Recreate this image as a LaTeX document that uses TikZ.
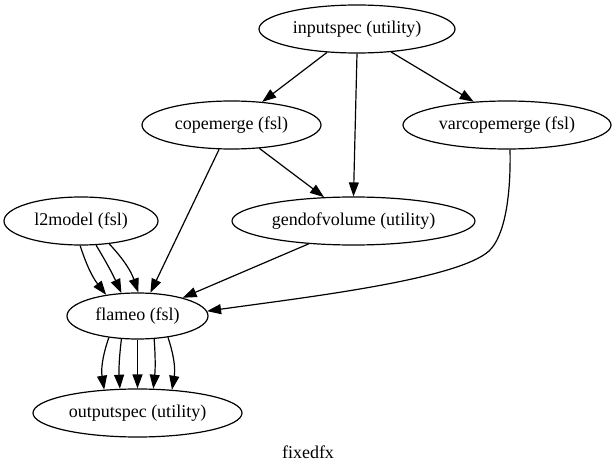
\documentclass[tikz,border=0pt]{standalone}
\usepackage{fontspec}
\setmainfont{Liberation Serif}
\usetikzlibrary{shapes.geometric,arrows.meta}
\begin{document}
\begin{tikzpicture}[x=1pt,y=-1pt,
  every node/.style={font=\fontsize{18}{21.6}\selectfont},
  nd/.style={draw, ellipse, inner sep=0pt, line width=1.2pt},
  conn/.style={draw, line width=1.2pt, -{Triangle[length=14pt,width=10pt]}}]
\useasboundingbox (0,0) rectangle (616,473);
\fill[white] (0,0) rectangle (616,473);
\node[nd, minimum width=196pt, minimum height=48pt] (inputspec) at (357,29) {inputspec (utility)};
\node[nd, minimum width=179pt, minimum height=48pt] (cope) at (231.5,125) {copemerge (fsl)};
\node[nd, minimum width=208pt, minimum height=48pt] (varcope) at (507,125) {varcopemerge (fsl)};
\node[nd, minimum width=154pt, minimum height=48pt] (l2) at (81,221) {l2model (fsl)};
\node[nd, minimum width=243pt, minimum height=48pt] (gendo) at (353.5,221) {gendofvolume (utility)};
\node[nd, minimum width=141pt, minimum height=46pt] (flameo) at (137.5,316) {flameo (fsl)};
\node[nd, minimum width=209pt, minimum height=48pt] (out) at (137.5,413) {outputspec (utility)};
\node (title) at (308,452) {fixedfx};
\coordinate (vbend) at (489,251);

\draw[conn] (inputspec.218.7) -- (cope.37.9);
\draw[conn] (inputspec.-90) -- (gendo.90);
\draw[conn] (inputspec.-34.4) -- (varcope.145.6);
\draw[conn] (cope.-40.1) -- (gendo.141.8);
\draw[conn] (cope.-117.5) -- (flameo.61.5);
\draw[conn] (gendo.-153.7) -- (flameo.22.9);
\draw[conn] (varcope.-83) .. controls (511,195) and (505,236) .. (vbend)
   .. controls (457,280) and (300,298) .. (flameo.4);

\draw[conn] (l2.-92.4) to[bend right=10] (flameo.146.3);
\draw[conn] (l2.-58) to[bend left=3] (flameo.125.7);
\draw[conn] (l2.-39.6) to[bend left=12] (flameo.88.8);

\draw[conn] (flameo.-143.9) to[bend right=14] (out.145.2);
\draw[conn] (flameo.-125.7) to[bend right=5] (out.126.1);
\draw[conn] (flameo.-90) -- (out.90);
\draw[conn] (flameo.-54.3) to[bend left=5] (out.57.1);
\draw[conn] (flameo.-35.3) to[bend left=14] (out.34.8);
\end{tikzpicture}
\end{document}
